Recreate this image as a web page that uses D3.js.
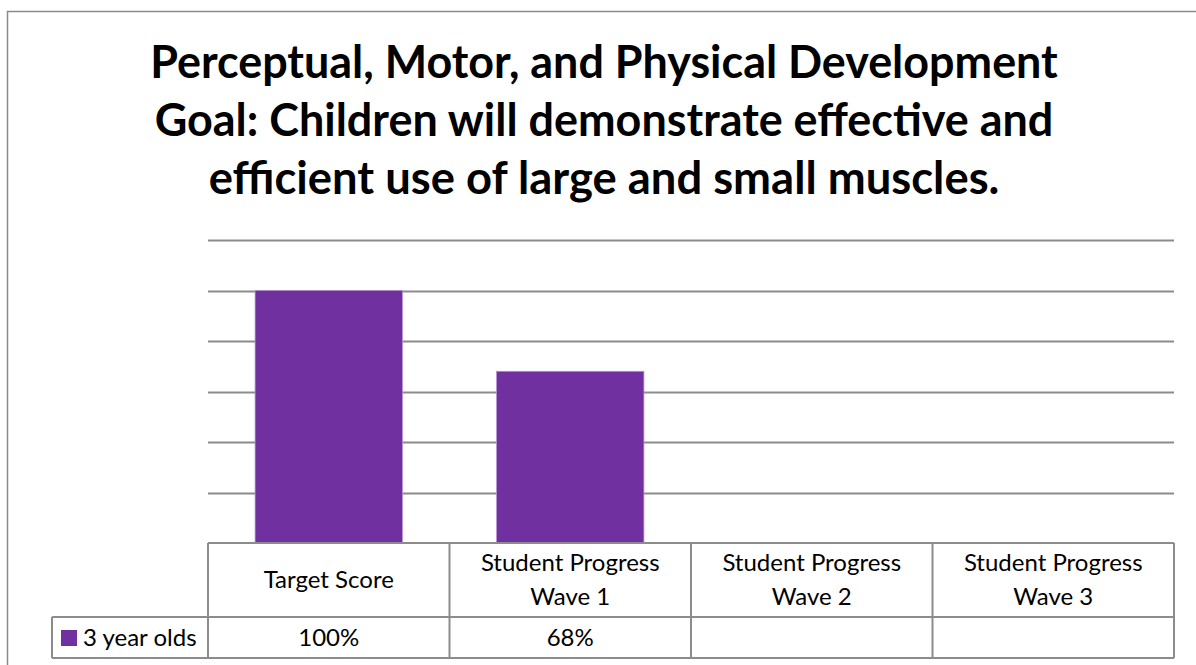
<!DOCTYPE html>
<html><head><meta charset="utf-8">
<script src="https://cdn.jsdelivr.net/npm/d3@7"></script>
<style>
html,body{margin:0;padding:0;background:#fff;}
svg{display:block;}
</style></head>
<body>
<svg id="chart" width="1196" height="665"></svg>
<script>
const titleLines = ["Perceptual, Motor, and Physical Development","Goal: Children will demonstrate effective and","efficient use of large and small muscles."];
const categories = ["Target Score","Student Progress Wave 1","Student Progress Wave 2","Student Progress Wave 3"];
const categoryLines = [["Target Score"],["Student Progress","Wave 1"],["Student Progress","Wave 2"],["Student Progress","Wave 3"]];
const seriesName = "3 year olds";
const values = [100, 68, null, null];
const yTicks = [0,20,40,60,80,100,120];

(function(){
const svg = d3.select("#chart");
const font = "Lato, 'Open Sans', sans-serif";
const purple = "#7030A0";
const gridC = "#8c8c8c";

svg.append("rect").attr("x",7.5).attr("y",11.5).attr("width",1200).attr("height",700)
  .attr("fill","none").attr("stroke","#8a8a8a").attr("stroke-width",1.5);

const titleWidths = [908, 899, 791];
const titleY = [78, 136, 194];
titleLines.forEach((t,i)=>{
  const el = svg.append("text").attr("x",604).attr("y",titleY[i]).attr("text-anchor","middle")
    .attr("font-family",font).attr("font-weight","bold").attr("font-size",40).attr("fill","#000").text(t);
  const w = el.node().getComputedTextLength();
  el.attr("font-size", 40*titleWidths[i]/w);
});

const pL = 208, pR = 1174, pT = 240, pB = 543;
const x = d3.scaleBand().domain(categories).range([pL,pR]).paddingInner(0.39).paddingOuter(0.195);
const y = d3.scaleLinear().domain([0,120]).range([pB, pT]);

svg.append("g").selectAll("line").data(yTicks.filter(d=>d>0)).join("line")
  .attr("x1",pL).attr("x2",pR).attr("y1",d=>Math.round(y(d))+0.5).attr("y2",d=>Math.round(y(d))+0.5)
  .attr("stroke",gridC).attr("stroke-width",2);

svg.append("g").selectAll("rect").data(values.map((v,i)=>({v,c:categories[i]})).filter(d=>d.v!=null)).join("rect")
  .attr("x",d=>x(d.c)).attr("width",x.bandwidth())
  .attr("y",d=>y(d.v)).attr("height",d=>y(0)-y(d.v))
  .attr("fill",purple).attr("stroke","#b58fd0").attr("stroke-width",0.8);

const rowTop = pB, rowMid = 617, rowBot = 658, legLeft = 52;
const tg = svg.append("g").attr("stroke","#8c8c8c").attr("stroke-width",2).attr("fill","none");
tg.append("line").attr("x1",pL).attr("x2",pR).attr("y1",rowTop).attr("y2",rowTop);
tg.append("line").attr("x1",legLeft).attr("x2",pR).attr("y1",rowMid).attr("y2",rowMid);
tg.append("line").attr("x1",legLeft).attr("x2",pR).attr("y1",rowBot).attr("y2",rowBot);
tg.append("line").attr("x1",legLeft).attr("x2",legLeft).attr("y1",rowMid).attr("y2",rowBot);
const vlines = [pL, ...categories.slice(1).map(c=>x(c)-x.step()*x.paddingInner()/2), pR];
tg.selectAll("line.v").data(vlines).join("line").attr("class","v")
  .attr("x1",d=>d).attr("x2",d=>d).attr("y1",rowTop).attr("y2",rowBot);

const fs = 24;
categoryLines.forEach((lines,i)=>{
  const cx = x(categories[i]) + x.bandwidth()/2;
  const n = lines.length;
  lines.forEach((l,j)=>{
    svg.append("text").attr("x",cx).attr("y", (rowTop+rowMid)/2 + (j-(n-1)/2)*34 + 8)
      .attr("text-anchor","middle").attr("font-family",font).attr("font-size",fs).attr("fill","#000").text(l);
  });
  if(values[i]!=null){
    svg.append("text").attr("x",cx).attr("y",(rowMid+rowBot)/2+8)
      .attr("text-anchor","middle").attr("font-family",font).attr("font-size",fs).attr("fill","#000").text(values[i]+"%");
  }
});
svg.append("rect").attr("x",61).attr("y",630).attr("width",16).attr("height",16).attr("fill",purple);
svg.append("text").attr("x",83).attr("y",(rowMid+rowBot)/2+8).attr("font-family",font).attr("font-size",fs).attr("fill","#000").text(seriesName);
})();
</script>
</body></html>
